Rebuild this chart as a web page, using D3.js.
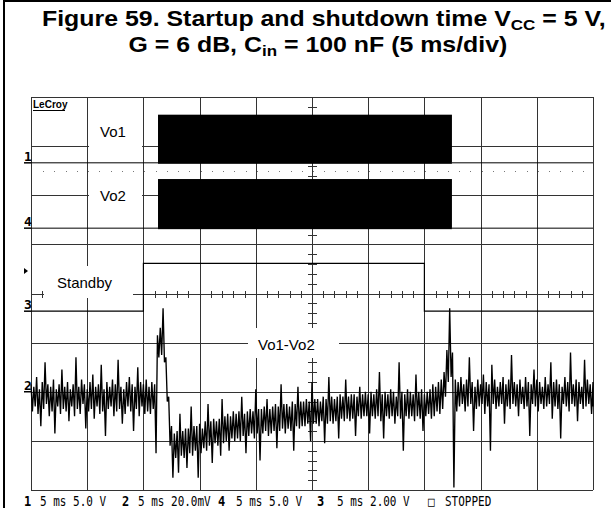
<!DOCTYPE html>
<html><head><meta charset="utf-8">
<script src="https://cdn.jsdelivr.net/npm/d3@7"></script>
<style>body{margin:0;background:#fff}svg{display:block}</style>
</head><body>
<script>
// ---------------- data ----------------
const timeDomainMs = [0, 50];            // 10 div x 5 ms/div
const divDomain = [-4, 4];               // 8 vertical divisions
const channelIds = ["1", "2", "4", "3"];
const channelSettings = ["5 ms 5.0 V", "5 ms 20.0mV", "5 ms 5.0 V", "5 ms 2.00 V"];
const statusText = "STOPPED";
const traceLabels = ["Vo1", "Vo2", "Standby", "Vo1-Vo2"];
const titleLine1 = ["Figure 59. Startup and shutdown time V", "CC", " = 5 V,"];
const titleLine2 = ["G = 6 dB, C", "in", " = 100 nF (5 ms/div)"];
// output (PWM) bursts: volts
const vo1Levels = [0, 4.9];
const vo2Levels = [0, 5.0];
const outputOnMs = [11.3, 37.45];
// standby input
const standbyTimesMs = [0, 10, 10, 35, 35, 50];
const standbyVolts = [0, 0, 1.95, 1.95, 0, 0];
// differential output Vo1-Vo2 (mV), peak-detect envelope, one bin every 0.25 ms
const vdiffHiMv = [
 3,2,6,1,4,12,3,2,5,1,3,9,2,4,1,3,14,2,5,3,1,4,7,2,3,11,1,4,2,5,3,13,2,1,4,6,3,2,10,4,3,5,
 2,4,3,23,26,34,14,-2,-14,
 -17,-16,-9,-16,-15,-15,-6,-14,-14,-13,-15,-12,-5,-12,-11,-12,-11,-3,-10,-9,-10,-8,
 -9,-8,-2,-9,-8,-7,-8,1,-7,-7,-6,-3,-7,-6,-5,-6,3,-5,-5,-6,-4,-5,2,-4,
 -4,-3,-4,4,-3,-3,-4,-2,-3,6,-2,-3,-2,-1,-2,5,-2,-1,-1,-2,2,-1,0,-1,
 0,-1,1,8,-1,0,-1,1,0,-2,12,0,-1,1,0,-1,7,0,1,-1,0,1,3,2,4,5,
 8,17,34,16,5,
 4,6,3,5,14,4,2,5,3,7,4,3,11,5,2,4,6,3,5,15,4,3,5,2,6,4,3,9,5,4,2,6,3,12,4,5,3,2,6,4,16,3,5,4,2,13,5,3,4
];
const vdiffLoMv = [
 -8,-6,-9,-14,-7,-5,-10,-8,-17,-6,-9,-7,-8,-12,-6,-10,-7,-9,-5,-15,-8,-7,-11,-6,-9,-8,-18,-7,-6,-10,-8,-7,-13,-9,-6,-8,-16,-7,-10,-6,-9,-8,
 -9,-7,-25,14,15,12,-4,-22,-35,
 -27,-33,-26,-27,-31,-25,-26,-24,-35,-25,-23,-24,-22,-29,-21,-22,-26,-21,-20,-24,-19,-20,
 -19,-20,-18,-25,-18,-17,-19,-17,-28,-17,-16,-18,-17,-16,-23,-16,-15,-17,-15,-16,-24,-14,-15,-14,
 -14,-13,-20,-13,-13,-14,-12,-21,-13,-12,-13,-12,-19,-11,-12,-11,-12,-11,-18,-10,-11,-10,-10,-17,
 -10,-11,-10,-12,-19,-10,-11,-10,-13,-10,-11,-24,-10,-11,-10,-12,-10,-11,-16,-10,-9,-11,-10,-8,-9,-7,
 -2,4,6,-39,-8,
 -6,-5,-8,-6,-5,-16,-7,-6,-5,-9,-6,-24,-5,-7,-6,-5,-13,-6,-7,-5,-6,-10,-5,-7,-6,-18,-5,-6,-8,-5,-7,-6,-5,-11,-6,-7,-19,-5,-6,-8,-5,-6,-12,-5,-7,-6,-5,-9,-6
];

// ---------------- scope settings (layout) ----------------
const chan = {  // volts per division and ground offset in divisions
  c1: {vdiv: 5, off: 2.66},
  c4: {vdiv: 5, off: 1.33},
  c3: {vdiv: 2, off: -0.36},
  c2: {vdiv: 20, off: -2.0}
};

const W = 611, H = 508;
const svg = d3.select("body").append("svg").attr("width", W).attr("height", H)
  .style("font-family", "'Liberation Sans', Arial, sans-serif");

const x = d3.scaleLinear().domain(timeDomainMs).range([31, 593]);
const y = d3.scaleLinear().domain(divDomain).range([490, 97]);
const yc = c => v => y(c.off + v / c.vdiv);

// frame
svg.append("line").attr("x1", 4).attr("x2", W).attr("y1", 1).attr("y2", 1).attr("stroke", "#000").attr("stroke-width", 2);
svg.append("line").attr("x1", 4).attr("x2", 4).attr("y1", 0).attr("y2", H).attr("stroke", "#000").attr("stroke-width", 2);

// title
function titleLine(parts, yy) {
  const t = svg.append("text").attr("x", 0).attr("y", yy).attr("font-weight", "bold").attr("font-size", 22).attr("fill", "#000");
  t.append("tspan").text(parts[0]);
  t.append("tspan").attr("font-size", 15).attr("dy", 4).text(parts[1]);
  t.append("tspan").attr("dy", -4).text(parts[2]);
  return t;
}
const t1 = titleLine(titleLine1, 26);
const t2 = titleLine(titleLine2, 52);
const w1 = t1.node().getComputedTextLength();
const sx = 564 / w1;
const w2 = t2.node().getComputedTextLength();
t1.attr("transform", `translate(${324 - w1 * sx / 2},0) scale(${sx},1)`);
t2.attr("transform", `translate(${318 - w2 * sx / 2},0) scale(${sx},1)`);

// grid
const g = svg.append("g").attr("shape-rendering", "crispEdges");
g.selectAll(".vg").data(d3.range(timeDomainMs[0], timeDomainMs[1] + 0.01, 5)).join("line")
  .attr("x1", d => Math.round(x(d)) + 0.5).attr("x2", d => Math.round(x(d)) + 0.5)
  .attr("y1", y(4)).attr("y2", y(-4)).attr("stroke", "#333");
g.selectAll(".hg").data(d3.range(-4, 4.01, 1)).join("line")
  .attr("y1", d => Math.round(y(d)) + 0.5).attr("y2", d => Math.round(y(d)) + 0.5)
  .attr("x1", x(0)).attr("x2", x(50)).attr("stroke", "#333");
// centre ticks
g.selectAll(".ht").data(d3.range(0, 50.01, 1)).join("line")
  .attr("x1", d => Math.round(x(d)) + 0.5).attr("x2", d => Math.round(x(d)) + 0.5)
  .attr("y1", y(0) - 3).attr("y2", y(0) + 4).attr("stroke", "#333");
g.selectAll(".vt").data(d3.range(-4, 4.01, 0.2)).join("line")
  .attr("y1", d => Math.round(y(d)) + 0.5).attr("y2", d => Math.round(y(d)) + 0.5)
  .attr("x1", x(25) - 4).attr("x2", x(25) + 5).attr("stroke", "#333");
// dotted reference row
g.selectAll(".dot").data(d3.range(1, 50, 1)).join("rect")
  .attr("x", d => Math.round(x(d) + 1)).attr("y", Math.round(y(2.49))).attr("width", 1).attr("height", 1).attr("fill", "#777");

// label boxes (white) + labels
const labelBoxes = [
  {t: traceLabels[0], bx: 89, by: 119, bw: 53, bh: 33, tx: 100, ty: 137},
  {t: traceLabels[1], bx: 89, by: 184, bw: 53, bh: 27, tx: 100, ty: 201},
  {t: traceLabels[2], bx: 44, by: 266, bw: 89, bh: 32, tx: 57, ty: 288},
  {t: traceLabels[3], bx: 248, by: 328, bw: 91, bh: 30, tx: 258, ty: 350}
];
const lb = svg.append("g");
lb.selectAll("rect").data(labelBoxes).join("rect")
  .attr("x", d => d.bx).attr("y", d => d.by).attr("width", d => d.bw).attr("height", d => d.bh).attr("fill", "#fff");
lb.selectAll("text").data(labelBoxes).join("text")
  .attr("x", d => d.tx).attr("y", d => d.ty).attr("font-size", 15).text(d => d.t);

// LeCroy
svg.append("text").attr("x", 33).attr("y", 108).attr("font-size", 10).attr("font-weight", "bold").text("LeCroy");
svg.append("line").attr("x1", 33).attr("x2", 65).attr("y1", 110.5).attr("y2", 110.5).attr("stroke", "#000");

// traces
const traces = svg.append("g");
function pwm(c, levels) {
  const f = yc(c);
  const base = d3.line().x(d => x(d[0])).y(d => f(d[1]));
  traces.append("path").attr("d", base([[0, levels[0]], [outputOnMs[0], levels[0]]])).attr("stroke", "#000").attr("fill", "none");
  traces.append("path").attr("d", base([[outputOnMs[1], levels[0]], [50, levels[0]]])).attr("stroke", "#000").attr("fill", "none");
  traces.append("rect").attr("x", x(outputOnMs[0])).attr("width", x(outputOnMs[1]) - x(outputOnMs[0]))
    .attr("y", f(levels[1])).attr("height", f(levels[0]) - f(levels[1]) + 1).attr("fill", "#000");
}
pwm(chan.c1, vo1Levels);
pwm(chan.c4, vo2Levels);

const fs = yc(chan.c3);
traces.append("path").datum(d3.zip(standbyTimesMs, standbyVolts))
  .attr("d", d3.line().x(d => x(d[0])).y(d => fs(d[1])))
  .attr("fill", "none").attr("stroke", "#000").attr("stroke-width", 1.2);

// Vo1-Vo2: zig-zag through each bin's max then min
const fd = yc(chan.c2);
const binMs = (timeDomainMs[1] - timeDomainMs[0]) / (vdiffHiMv.length - 1);
const zz = [];
vdiffHiMv.forEach((hi, i) => {
  zz.push([i * binMs, hi]);
  zz.push([Math.min(i * binMs + binMs / 2, timeDomainMs[1]), vdiffLoMv[i]]);
});
traces.append("path").datum(zz)
  .attr("d", d3.line().x(d => x(d[0])).y(d => fd(d[1])))
  .attr("fill", "none").attr("stroke", "#000").attr("stroke-width", 1.35);

// channel markers on the left
const markers = [
  {id: channelIds[0], c: chan.c1},
  {id: channelIds[2], c: chan.c4},
  {id: channelIds[3], c: chan.c3},
  {id: channelIds[1], c: chan.c2}
];
const mk = svg.append("g");
markers.forEach(m => {
  const yy = yc(m.c)(0);
  mk.append("text").attr("x", 24).attr("y", yy - 2).attr("font-size", 13).attr("font-weight", "bold")
    .attr("font-family", "'DejaVu Sans Mono', monospace").text(m.id);
  mk.append("line").attr("x1", 24).attr("x2", 31).attr("y1", yy).attr("y2", yy).attr("stroke", "#000").attr("stroke-width", 1.5);
});
// trigger arrow
svg.append("path").attr("d", "M24,268 L28,271 L24,274 Z").attr("fill", "#000");

// bottom status line
const bottom = [
  {t: channelIds[0], x: 24, b: true}, {t: channelSettings[0], x: 40},
  {t: channelIds[1], x: 122, b: true}, {t: channelSettings[1], x: 138},
  {t: channelIds[2], x: 218, b: true}, {t: channelSettings[2], x: 236},
  {t: channelIds[3], x: 317, b: true}, {t: channelSettings[3], x: 337},
  {t: "\u25A1", x: 428}, {t: statusText, x: 445}
];
const bt = svg.append("g").attr("font-family", "'DejaVu Sans Mono', monospace");
bt.selectAll("text").data(bottom).join("text")
  .attr("transform", d => `translate(${d.x},506) scale(1,1.2)`)
  .attr("font-size", d => d.b ? 12 : 11)
  .attr("font-weight", d => d.b ? "bold" : "normal")
  .attr("xml:space", "preserve").style("white-space", "pre")
  .text(d => d.t);
</script>
</body></html>
